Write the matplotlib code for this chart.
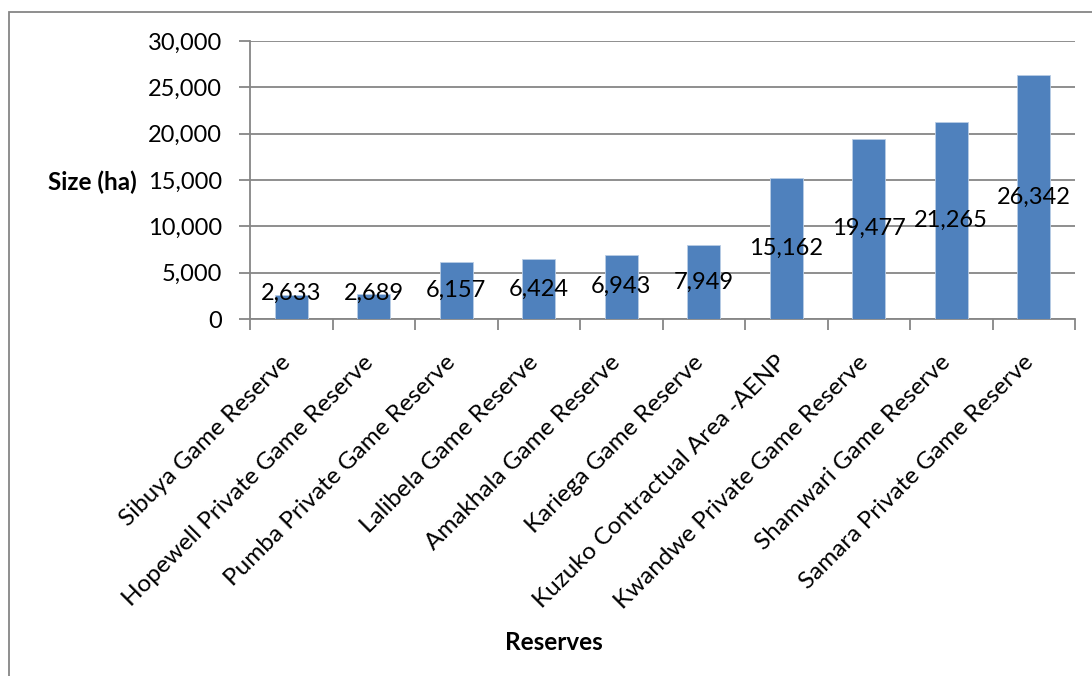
import matplotlib
matplotlib.use("Agg")
import matplotlib.pyplot as plt
from matplotlib.patches import Rectangle
from matplotlib.ticker import FuncFormatter
import matplotlib.transforms as mtransforms

categories = ["Sibuya Game Reserve", "Hopewell Private Game Reserve",
              "Pumba Private Game Reserve", "Lalibela Game Reserve",
              "Amakhala Game Reserve", "Kariega Game Reserve",
              "Kuzuko Contractual Area -AENP", "Kwandwe Private Game Reserve",
              "Shamwari Game Reserve", "Samara Private Game Reserve"]
sizes = [2633, 2689, 6157, 6424, 6943, 7949, 15162, 19477, 21265, 26342]
y_ticks = [0, 5000, 10000, 15000, 20000, 25000, 30000]

plt.rcParams['font.family'] = ['Lato', 'DejaVu Sans']

W, H = 1092, 676
fig = plt.figure(figsize=(W / 100, H / 100), dpi=100)
ax = fig.add_axes([250 / W, 1 - 319 / H, (1075 - 250) / W, (319 - 41) / H])

x = list(range(len(categories)))
ax.bar(x, sizes, width=0.4, color="#4F81BD", edgecolor="#B9CDE5", linewidth=0.6, zorder=3)
ax.set_xlim(-0.5, len(categories) - 0.5)
ax.set_ylim(0, 30000)
ax.set_yticks(y_ticks)
ax.yaxis.set_major_formatter(FuncFormatter(lambda v, p: f"{int(v):,}"))
ax.grid(axis="y", color="#868686", linewidth=1.3, zorder=0)
ax.set_axisbelow(True)

for s in ["top", "right"]:
    ax.spines[s].set_visible(False)
for s in ["left", "bottom"]:
    ax.spines[s].set_color("#868686")
    ax.spines[s].set_linewidth(1.3)

ax.tick_params(axis="y", length=8, width=1.3, color="#868686", labelsize=17, pad=12)
ax.set_xticks([i - 0.5 for i in range(len(categories) + 1)])
ax.set_xticklabels([])
ax.tick_params(axis="x", length=8, width=1.3, color="#868686")

# category labels rotated 45 degrees
offset = mtransforms.ScaledTranslation(-4 / 100, -40 / 100, fig.dpi_scale_trans)
trans = mtransforms.blended_transform_factory(ax.transData, ax.transAxes) + offset
for i, c in enumerate(categories):
    ax.text(i, 0, c, transform=trans, rotation=45, rotation_mode="anchor",
            ha="right", va="center", fontsize=17.5, color="black")

# value labels, centred in bars
for i, v in enumerate(sizes):
    ypos = max(v / 2, 2800)
    ax.text(i, ypos, f"{v:,}", ha="center", va="center", fontsize=17,
            color="black", zorder=4)

fig.text(92 / W, 1 - 182 / H, "Size (ha)", ha="center", va="center",
         fontsize=17.5, fontweight="bold")
fig.text(554 / W, 1 - 643 / H, "Reserves", ha="center", va="center",
         fontsize=17.5, fontweight="bold")

fig.patches.append(Rectangle((9 / W, -0.1), 1.2, 1 - 12 / H + 0.1,
                             transform=fig.transFigure, fill=False,
                             edgecolor="#868686", linewidth=1.3))

fig.savefig("out.png", dpi=100)
